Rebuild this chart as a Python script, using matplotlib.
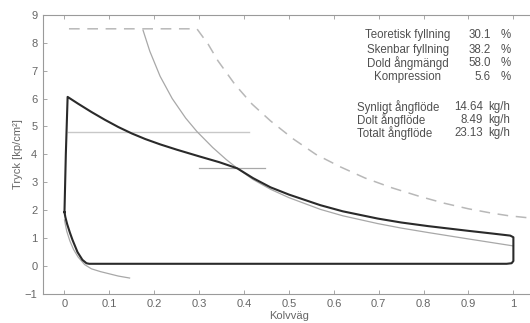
import numpy as np
import matplotlib
matplotlib.use('agg')
import matplotlib.pyplot as plt

# indicator diagram (closed loop)
loop_x = [0.0, 0.003, 0.007, 0.03, 0.06, 0.09, 0.12, 0.15, 0.18, 0.213, 0.25, 0.30, 0.345,
          0.385, 0.42, 0.459, 0.5, 0.57, 0.62, 0.698, 0.75, 0.81, 0.9, 0.95, 0.993, 1.0,
          1.0, 0.996, 0.985, 0.9, 0.5, 0.1, 0.055, 0.049, 0.04, 0.029, 0.018, 0.012,
          0.006, 0.002, 0.0]
loop_p = [1.93, 4.0, 6.06, 5.82, 5.52, 5.24, 4.98, 4.75, 4.55, 4.36, 4.17, 3.93, 3.72,
          3.5, 3.15, 2.82, 2.56, 2.18, 1.96, 1.7, 1.56, 1.43, 1.26, 1.17, 1.09, 1.03,
          0.18, 0.1, 0.08, 0.08, 0.08, 0.08, 0.08, 0.1, 0.22, 0.5, 0.93, 1.2,
          1.5, 1.75, 1.93]

# thin grey expansion curve
exp_x = [0.175, 0.19, 0.213, 0.24, 0.27, 0.295, 0.33, 0.36, 0.385, 0.42, 0.459, 0.5,
         0.57, 0.62, 0.698, 0.75, 0.81, 0.9, 1.0]
exp_p = [8.45, 7.7, 6.8, 6.0, 5.3, 4.82, 4.25, 3.82, 3.5, 3.1, 2.75, 2.45,
         2.03, 1.8, 1.52, 1.36, 1.2, 0.97, 0.72]

# thin grey compression curve (lower left)
comp_x = [0.0, 0.005, 0.012, 0.02, 0.03, 0.045, 0.06, 0.08, 0.1, 0.12, 0.145]
comp_p = [1.65, 1.25, 0.9, 0.6, 0.33, 0.05, -0.1, -0.2, -0.28, -0.36, -0.43]

# dashed grey curve
dash_x = [0.01, 0.295, 0.32, 0.342, 0.38, 0.418, 0.459, 0.51, 0.56, 0.615, 0.67, 0.73,
          0.79, 0.846, 0.9, 0.95, 0.99, 1.05]
dash_p = [8.5, 8.5, 7.95, 7.35, 6.5, 5.8, 5.2, 4.55, 4.0, 3.55, 3.15, 2.8,
          2.5, 2.25, 2.05, 1.9, 1.8, 1.7]

# reference lines
h1_x = [0.007, 0.41]
h1_p = [4.82, 4.82]
h2_x = [0.30, 0.447]
h2_p = [3.5, 3.5]

labels1 = ["Teoretisk fyllning", "Skenbar fyllning", "Dold ångmängd", "Kompression"]
values1 = ["30.1", "38.2", "58.0", "5.6"]
labels2 = ["Synligt ångflöde", "Dolt ångflöde", "Totalt ångflöde"]
values2 = ["14.64", "8.49", "23.13"]

plt.rcParams['font.family'] = ['Liberation Sans', 'DejaVu Sans']
plt.rcParams['font.size'] = 8

fig = plt.figure(figsize=(5.30, 3.23), dpi=100)
ax = fig.add_axes([0.081, 0.09, 0.93, 0.864])

grey = '#a8a8a8'
ax.plot(h1_x, h1_p, color='#c8c8c8', lw=1.0)
ax.plot(h2_x, h2_p, color=grey, lw=0.9)
ax.plot(dash_x, dash_p, color='#b8b8b8', lw=1.1, ls=(0, (7, 5)))
ax.plot(exp_x, exp_p, color=grey, lw=0.9)
ax.plot(comp_x, comp_p, color=grey, lw=0.9)
ax.plot(loop_x, loop_p, color='#2a2a2a', lw=1.5, solid_joinstyle='round')

ax.set_xlim(-0.048, 1.05)
ax.set_ylim(-1, 9)
ax.set_xticks(np.arange(0, 1.01, 0.1))
ax.set_xticklabels(["0", "0.1", "0.2", "0.3", "0.4", "0.5", "0.6", "0.7", "0.8", "0.9", "1"])
ax.set_yticks(range(-1, 10))
ax.tick_params(direction='in', top=True, right=True, length=3, width=0.6,
               colors='#999999', labelcolor='#666666', labelsize=8, pad=4)
for s in ax.spines.values():
    s.set_color('#9a9a9a')
    s.set_linewidth(0.8)

ax.set_xlabel("Kolvväg", color='#666666', fontsize=8, labelpad=1)
ax.set_ylabel("Tryck [kp/cm²]", color='#666666', fontsize=8, labelpad=1)

tc = '#505050'
fs = 8.3
ys = [8.28, 7.75, 7.28, 6.77]
for lab, val, y in zip(labels1, values1, ys):
    ax.text(0.765, y, lab, ha='center', va='center', color=tc, fontsize=fs)
    ax.text(0.949, y, val, ha='right', va='center', color=tc, fontsize=fs)
    ax.text(0.972, y, "%", ha='left', va='center', color=tc, fontsize=fs)
ys = [5.7, 5.23, 4.77]
for lab, val, y in zip(labels2, values2, ys):
    ax.text(0.651, y, lab, ha='left', va='center', color=tc, fontsize=fs)
    ax.text(0.933, y, val, ha='right', va='center', color=tc, fontsize=fs)
    ax.text(0.944, y, "kg/h", ha='left', va='center', color=tc, fontsize=fs)

fig.savefig("out.png", dpi=100)
